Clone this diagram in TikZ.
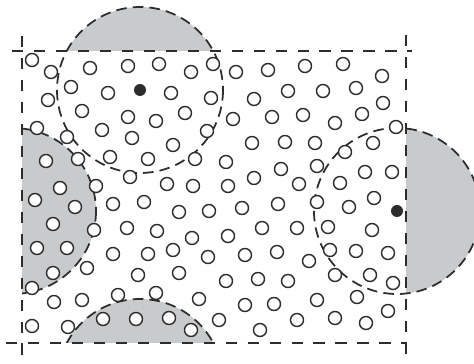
\documentclass[tikz,border=0pt]{standalone}
\usepackage{xcolor}
\usepackage{tikz}
\definecolor{capgray}{RGB}{200,202,204}
\definecolor{inkgray}{RGB}{45,45,45}

\begin{document}
\begin{tikzpicture}[x=0.02cm,y=-0.02cm,
    cellline/.style={inkgray,line width=1.1pt,dash pattern=on 6.5pt off 6pt},
    cutline/.style={inkgray,line width=1pt,dash pattern=on 6pt off 3.5pt},
    atom/.style={inkgray,line width=0.8pt,fill=white},
    centre/.style={inkgray,fill=inkgray}]
  \useasboundingbox (0,0) rectangle (474,364);
  \coordinate (tl) at (22,51);
  \coordinate (br) at (406,343);
  \coordinate (c1) at (140,90);
  \coordinate (c2) at (397,211);
  \coordinate (c1img) at (140,382);
  \coordinate (c2img) at (13,211);
  % parts of the cut-off spheres outside the cell
  \fill[capgray] (c1) circle (83);
  \fill[capgray] (c2) circle (83);
  \fill[white] (tl) rectangle (br);
  % periodic images inside the cell
  \begin{scope}
    \clip (tl) rectangle (br);
    \fill[capgray] (c1img) circle (83);
    \fill[capgray] (c2img) circle (83);
    \draw[cutline] (c1img) circle (83);
    \draw[cutline] (c2img) circle (83);
  \end{scope}
  \draw[cutline] (c1) circle (83);
  \draw[cutline] (c2) circle (83);
  % cell boundary
  \draw[cellline] (22,36) -- (22,364);
  \draw[cellline] (406,35) -- (406,364);
  \draw[cellline] (12,51) -- (412,51);
  \draw[cellline] (6,343) -- (407,343);
  % atoms
  \foreach \x/\y in {32/60,51/72,90/68,128/66,159/64,191/72,213/64,236/72,268/70,305/66,343/64,382/76,
      71/87,108/93,171/93,211/98,254/99,288/91,323/91,356/88,383/103,48/100,
      82/111,128/117,156/121,185/113,233/119,272/117,303/115,335/123,362/114,396/127,37/128,102/130,207/131,
      67/137,132/138,173/145,252/143,285/142,315/143,345/152,373/143,46/161,78/159,110/157,148/159,195/159,226/162,
      281/169,317/166,365/172,392/172,130/177,254/178,60/188,96/186,167/184,193/186,228/186,299/184,340/183,
      35/200,75/207,113/204,144/202,179/212,209/211,242/208,278/204,317/202,349/207,374/198,
      53/224,94/230,127/228,157/231,192/238,228/236,262/228,297/228,328/227,372/230,
      37/248,67/248,113/254,148/254,173/250,208/257,245/255,277/252,309/261,330/250,356/251,388/253,
      53/273,87/268,138/275,179/273,226/281,258/279,288/281,335/275,370/275,393/283,
      32/288,54/302,82/300,118/295,156/293,199/299,245/305,274/304,317/300,357/297,388/311,
      32/326,68/327,103/319,136/319,169/318,191/330,219/320,260/330,297/320,335/318,366/323}
    \draw[atom] (\x,\y) circle (6.5);
  % sphere centres
  \fill[centre] (c1) circle (6);
  \fill[centre] (c2) circle (6);
\end{tikzpicture}
\end{document}
